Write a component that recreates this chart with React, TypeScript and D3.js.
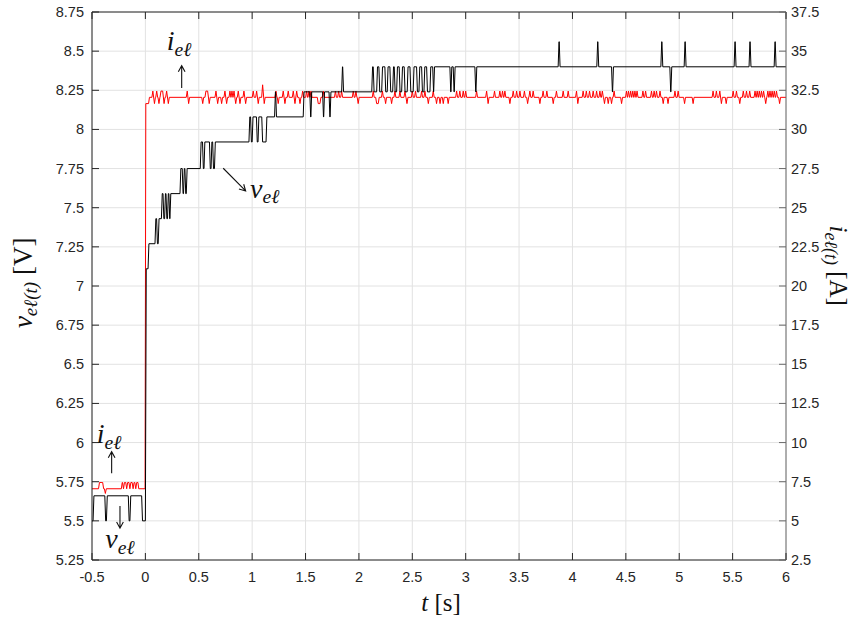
import React from 'react';
import * as d3 from 'd3';

const W = 857, H = 619;
const M = { left: 92, right: 786, top: 12, bottom: 560 };

const xTicks = [-0.5, 0, 0.5, 1, 1.5, 2, 2.5, 3, 3.5, 4, 4.5, 5, 5.5, 6];
const xTickLabels = ['-0.5', '0', '0.5', '1', '1.5', '2', '2.5', '3', '3.5', '4', '4.5', '5', '5.5', '6'];
const vTicks = [5.25, 5.5, 5.75, 6, 6.25, 6.5, 6.75, 7, 7.25, 7.5, 7.75, 8, 8.25, 8.5, 8.75];
const vTickLabels = ['5.25', '5.5', '5.75', '6', '6.25', '6.5', '6.75', '7', '7.25', '7.5', '7.75', '8', '8.25', '8.5', '8.75'];
const iTicks = [2.5, 5, 7.5, 10, 12.5, 15, 17.5, 20, 22.5, 25, 27.5, 30, 32.5, 35, 37.5];
const iTickLabels = ['2.5', '5', '7.5', '10', '12.5', '15', '17.5', '20', '22.5', '25', '27.5', '30', '32.5', '35', '37.5'];

// voltage: [time, new level] step changes
const voltageSteps: [number, number][] = [
  [-0.5, 5.5], [-0.49, 5.66], [-0.38, 5.5], [-0.365, 5.66], [-0.16, 5.5], [-0.145, 5.66], [-0.035, 5.5],
  [0.0, 7.11], [0.025, 7.27], [0.09, 7.43], [0.105, 7.27], [0.12, 7.43], [0.15, 7.59], [0.165, 7.43],
  [0.18, 7.59], [0.193, 7.43], [0.207, 7.59], [0.22, 7.43], [0.23, 7.59], [0.324, 7.75], [0.345, 7.59],
  [0.357, 7.75], [0.37, 7.59], [0.383, 7.75], [0.514, 7.92], [0.535, 7.75], [0.549, 7.92], [0.6, 7.75],
  [0.615, 7.92], [0.63, 7.75], [0.647, 7.92], [0.97, 8.08], [0.985, 7.92], [1.0, 8.08], [1.04, 7.92],
  [1.055, 8.08], [1.09, 7.92], [1.13, 8.08], [1.21, 8.24], [1.22, 8.08], [1.478, 8.24], [1.54, 8.08],
  [1.55, 8.24], [1.66, 8.08], [1.67, 8.24], [1.72, 8.08], [1.73, 8.24], [1.838, 8.4], [1.848, 8.24],
  [2.12, 8.4], [2.134, 8.24], [2.166, 8.4], [2.187, 8.24], [2.213, 8.4], [2.243, 8.24], [2.265, 8.4],
  [2.29, 8.24], [2.316, 8.4], [2.331, 8.24], [2.353, 8.4], [2.377, 8.24], [2.4, 8.4], [2.424, 8.24],
  [2.452, 8.4], [2.478, 8.24], [2.508, 8.4], [2.54, 8.24], [2.562, 8.4], [2.587, 8.24], [2.609, 8.4],
  [2.634, 8.24], [2.665, 8.4], [2.691, 8.24], [2.7, 8.4], [2.852, 8.24], [2.862, 8.4], [2.883, 8.24],
  [2.893, 8.4], [3.086, 8.24], [3.096, 8.4], [3.866, 8.56], [3.876, 8.4], [4.228, 8.56], [4.238, 8.4],
  [4.366, 8.24], [4.376, 8.4], [4.828, 8.56], [4.838, 8.4], [4.912, 8.24], [4.922, 8.4], [5.046, 8.56],
  [5.056, 8.4], [5.514, 8.56], [5.524, 8.4], [5.654, 8.56], [5.664, 8.4], [5.889, 8.56], [5.899, 8.4],
];

// current: baseline breakpoints [time, amps]
const currentBase: [number, number][] = [
  [-0.5, 7.05], [-0.225, 7.05], [-0.217, 7.45], [-0.07, 7.45], [-0.062, 7.05], [-0.003, 7.05],
  [0.004, 31.65], [0.03, 31.65], [0.038, 32.05], [6, 32.05],
];

// current: single-sample deviations from baseline [time, amps]
const currentSpikes: [number, number][] = [
  [-0.43, 7.45], [-0.415, 7.45], [-0.4, 7.45], [-0.375, 6.75],
  [-0.205, 7.05], [-0.175, 7.05], [-0.145, 7.05], [-0.115, 7.05], [-0.09, 7.05],
  [0.07, 32.45], [0.085, 31.65], [0.106, 32.45], [0.127, 31.65], [0.146, 32.45], [0.162, 32.45],
  [0.175, 31.65], [0.199, 32.45], [0.215, 31.65], [0.392, 32.45], [0.405, 31.65], [0.537, 31.65],
  [0.567, 32.45], [0.583, 32.45], [0.598, 31.65], [0.661, 32.45], [0.677, 31.65], [0.714, 31.65],
  [0.745, 32.45], [0.761, 31.65], [0.792, 32.45], [0.811, 32.45], [0.83, 32.45], [0.846, 31.65],
  [0.87, 32.45], [0.886, 31.65], [0.923, 32.45], [0.939, 31.65], [1.01, 32.45], [1.042, 32.45],
  [1.057, 31.65], [1.098, 32.85], [1.113, 31.65], [1.223, 32.45], [1.244, 31.65], [1.291, 32.45],
  [1.307, 31.65], [1.338, 32.45], [1.385, 32.45], [1.401, 31.65], [1.417, 32.45], [1.448, 31.65],
  [1.473, 32.45], [1.51, 32.45], [1.532, 32.45], [1.551, 32.45], [1.619, 31.65], [1.635, 31.65],
  [1.666, 32.45], [1.78, 32.45], [1.81, 32.45], [1.838, 32.45], [1.947, 32.45], [1.972, 32.45],
  [1.993, 31.65], [2.134, 32.45], [2.166, 31.65], [2.181, 31.65], [2.22, 32.45], [2.25, 31.65],
  [2.306, 31.65], [2.337, 32.45], [2.384, 32.45], [2.431, 32.45], [2.45, 31.65], [2.5, 32.45],
  [2.53, 32.45], [2.587, 32.45], [2.618, 32.45], [2.65, 31.65], [2.696, 32.45], [2.727, 31.65],
  [2.76, 31.65], [2.79, 31.65], [2.836, 31.65], [2.915, 32.45], [2.945, 32.45], [2.977, 32.45],
  [3.0, 32.45], [3.102, 32.45], [3.196, 32.45], [3.21, 31.65], [3.27, 32.45], [3.32, 32.45],
  [3.345, 32.45], [3.367, 32.45], [3.414, 31.65], [3.445, 32.45], [3.477, 32.45], [3.508, 32.45],
  [3.55, 32.45], [3.58, 31.65], [3.601, 32.45], [3.632, 32.45], [3.695, 31.65], [3.725, 32.45],
  [3.76, 32.45], [3.82, 31.65], [3.85, 32.45], [3.913, 32.45], [3.96, 32.45], [4.038, 32.45],
  [4.05, 31.65], [4.1, 32.45], [4.13, 32.45], [4.16, 32.45], [4.194, 32.45], [4.226, 32.45],
  [4.257, 32.45], [4.28, 32.45], [4.3, 31.65], [4.335, 31.65], [4.366, 31.65], [4.39, 32.45],
  [4.46, 31.65], [4.506, 32.45], [4.525, 32.45], [4.545, 32.45], [4.565, 32.45], [4.585, 32.45],
  [4.605, 32.45], [4.66, 32.45], [4.685, 32.45], [4.74, 32.45], [4.765, 32.45], [4.787, 32.45],
  [4.82, 32.45], [4.85, 31.65], [4.895, 31.65], [4.96, 32.45], [4.99, 32.45], [5.05, 31.65],
  [5.13, 31.65], [5.317, 32.45], [5.348, 32.45], [5.38, 32.45], [5.395, 31.65], [5.44, 31.65],
  [5.505, 32.45], [5.536, 32.45], [5.567, 31.65], [5.6, 32.45], [5.63, 32.45], [5.66, 32.45],
  [5.71, 32.45], [5.73, 32.45], [5.75, 32.45], [5.77, 32.45], [5.79, 32.45], [5.81, 31.65],
  [5.83, 32.45], [5.85, 32.45], [5.87, 32.45], [5.89, 32.45], [5.911, 32.45], [5.94, 31.65],
];

const T_END = 6;

function buildSteps(steps: [number, number][], tEnd: number): [number, number][] {
  const w = 0.008;
  const pts: [number, number][] = [[steps[0][0], steps[0][1]]];
  for (let k = 1; k < steps.length; k++) {
    const prev = steps[k - 1][1];
    pts.push([steps[k][0], prev]);
    pts.push([steps[k][0] + w, steps[k][1]]);
  }
  pts.push([tEnd, steps[steps.length - 1][1]]);
  return pts;
}

function baseAt(base: [number, number][], t: number): number {
  for (let k = 1; k < base.length; k++) {
    if (t <= base[k][0]) {
      const [t0, v0] = base[k - 1];
      const [t1, v1] = base[k];
      return v0 + ((t - t0) / (t1 - t0)) * (v1 - v0);
    }
  }
  return base[base.length - 1][1];
}

function buildSpikes(base: [number, number][], spikes: [number, number][]): [number, number][] {
  const w = 0.009;
  const ev = spikes.slice().sort((a, b) => a[0] - b[0]);
  const pts: [number, number][] = base.map((d) => [d[0], d[1]] as [number, number]);
  ev.forEach((e, k) => {
    const t = e[0];
    if (k === 0 || ev[k - 1][0] + w <= t - w) pts.push([t - w, baseAt(base, t - w)]);
    pts.push([t, e[1]]);
    if (k === ev.length - 1 || ev[k + 1][0] - w >= t + w) pts.push([t + w, baseAt(base, t + w)]);
  });
  const filtered = pts.filter((p) => {
    const isBase = base.some((b) => b[0] === p[0] && b[1] === p[1]);
    if (!isBase) return true;
    return !ev.some((e) => Math.abs(e[0] - p[0]) < w);
  });
  return filtered.sort((a, b) => a[0] - b[0]);
}

function Arrow({ x1, y1, x2, y2 }: { x1: number; y1: number; x2: number; y2: number }) {
  const ang = Math.atan2(y2 - y1, x2 - x1);
  const L = 7, a = 0.5;
  const hx1 = x2 - L * Math.cos(ang - a), hy1 = y2 - L * Math.sin(ang - a);
  const hx2 = x2 - L * Math.cos(ang + a), hy2 = y2 - L * Math.sin(ang + a);
  return (
    <path
      d={`M${x1},${y1}L${x2},${y2}M${hx1},${hy1}L${x2},${y2}L${hx2},${hy2}`}
      fill="none" stroke="#111" strokeWidth={1.1}
    />
  );
}

const MATH = "'Liberation Serif', 'DejaVu Serif', serif";
const SANS = "'Liberation Sans', Arial, sans-serif";

function MathLabel({ x, y, base, sub, size = 28 }: { x: number; y: number; base: string; sub: string; size?: number }) {
  return (
    <text x={x} y={y} fontFamily={MATH} fontStyle="italic" fontSize={size} fill="#111">
      {base}
      <tspan fontSize={size * 0.7} dy={size * 0.2}>{sub}</tspan>
    </text>
  );
}

export default function App() {
  const x = d3.scaleLinear().domain([-0.5, 6]).range([M.left, M.right]);
  const yV = d3.scaleLinear().domain([5.25, 8.75]).range([M.bottom, M.top]);
  const yI = d3.scaleLinear().domain([2.5, 37.5]).range([M.bottom, M.top]);

  const vPts = buildSteps(voltageSteps, T_END);
  const iPts = buildSpikes(currentBase, currentSpikes);
  const vLine = d3.line<[number, number]>().x((d) => x(d[0])).y((d) => yV(d[1]));
  const iLine = d3.line<[number, number]>().x((d) => x(d[0])).y((d) => yI(d[1]));

  const axisCol = '#262626';
  const rightCol = '#6a6a6a';
  const gridCol = '#e2e2e2';
  const TL = 7;

  return (
    <svg width={W} height={H} style={{ position: 'absolute', left: 0, top: 0, background: '#fff' }}>
      <defs>
        <clipPath id="plotclip">
          <rect x={M.left} y={M.top} width={M.right - M.left} height={M.bottom - M.top} />
        </clipPath>
      </defs>
      <rect x={0} y={0} width={W} height={H} fill="#fff" />
      <g stroke={gridCol} strokeWidth={1}>
        {xTicks.map((t) => (
          <line key={'gx' + t} x1={x(t)} x2={x(t)} y1={M.top} y2={M.bottom} />
        ))}
        {vTicks.map((t) => (
          <line key={'gy' + t} x1={M.left} x2={M.right} y1={yV(t)} y2={yV(t)} />
        ))}
      </g>
      <g clipPath="url(#plotclip)" fill="none">
        <path d={iLine(iPts) || ''} stroke="#ff0000" strokeWidth={1} />
        <path d={vLine(vPts) || ''} stroke="#000000" strokeWidth={1} />
      </g>
      <line x1={M.left} x2={M.right} y1={M.bottom} y2={M.bottom} stroke={axisCol} />
      <line x1={M.left} x2={M.right} y1={M.top} y2={M.top} stroke={axisCol} />
      <line x1={M.left} x2={M.left} y1={M.top} y2={M.bottom} stroke={axisCol} />
      <line x1={M.right} x2={M.right} y1={M.top} y2={M.bottom} stroke={rightCol} />
      <g stroke={axisCol}>
        {xTicks.map((t) => (
          <g key={'xt' + t}>
            <line x1={x(t)} x2={x(t)} y1={M.bottom} y2={M.bottom - TL} />
            <line x1={x(t)} x2={x(t)} y1={M.top} y2={M.top + TL} />
          </g>
        ))}
        {vTicks.map((t) => (
          <line key={'yt' + t} x1={M.left} x2={M.left + TL} y1={yV(t)} y2={yV(t)} />
        ))}
      </g>
      <g stroke={rightCol}>
        {iTicks.map((t) => (
          <line key={'it' + t} x1={M.right} x2={M.right - TL} y1={yI(t)} y2={yI(t)} />
        ))}
      </g>
      <g fontFamily={SANS} fontSize={14.5} fill={axisCol}>
        {xTicks.map((t, k) => (
          <text key={'xl' + t} x={x(t)} y={582} textAnchor="middle">{xTickLabels[k]}</text>
        ))}
        {vTicks.map((t, k) => (
          <text key={'vl' + t} x={M.left - 8} y={yV(t) + 5} textAnchor="end">{vTickLabels[k]}</text>
        ))}
        {iTicks.map((t, k) => (
          <text key={'il' + t} x={M.right + 5} y={yI(t) + 5} textAnchor="start">{iTickLabels[k]}</text>
        ))}
      </g>
      <text x={441} y={611} textAnchor="middle" fontFamily={MATH} fontSize={25} fill="#111">
        <tspan fontStyle="italic">t</tspan> [s]
      </text>
      <text transform={`translate(32,${yV(7.02)}) rotate(-90)`} textAnchor="middle" fontFamily={MATH} fontSize={27} fill="#111">
        <tspan fontStyle="italic">v</tspan>
        <tspan fontStyle="italic" fontSize={19} dy={5}>eℓ(t)</tspan>
        <tspan dy={-5}> [V]</tspan>
      </text>
      <text transform={`translate(830,${yV(7.13)}) rotate(90)`} textAnchor="middle" fontFamily={MATH} fontSize={25} fill="#111">
        <tspan fontStyle="italic">i</tspan>
        <tspan fontStyle="italic" fontSize={18} dy={5}>eℓ(t)</tspan>
        <tspan dy={-5}> [A]</tspan>
      </text>
      <MathLabel x={x(0.2)} y={yV(8.507)} base="i" sub="eℓ" />
      <Arrow x1={x(0.34)} y1={yV(8.265)} x2={x(0.34)} y2={yV(8.407)} />
      <Arrow x1={x(0.729)} y1={yV(7.752)} x2={x(0.939)} y2={yV(7.607)} />
      <MathLabel x={x(0.98)} y={yV(7.565)} base="v" sub="eℓ" />
      <MathLabel x={x(-0.455)} y={yV(5.997)} base="i" sub="eℓ" />
      <Arrow x1={x(-0.316)} y1={yV(5.804)} x2={x(-0.316)} y2={yV(5.942)} />
      <Arrow x1={x(-0.238)} y1={yV(5.595)} x2={x(-0.238)} y2={yV(5.453)} />
      <MathLabel x={x(-0.375)} y={yV(5.327)} base="v" sub="eℓ" />
    </svg>
  );
}
